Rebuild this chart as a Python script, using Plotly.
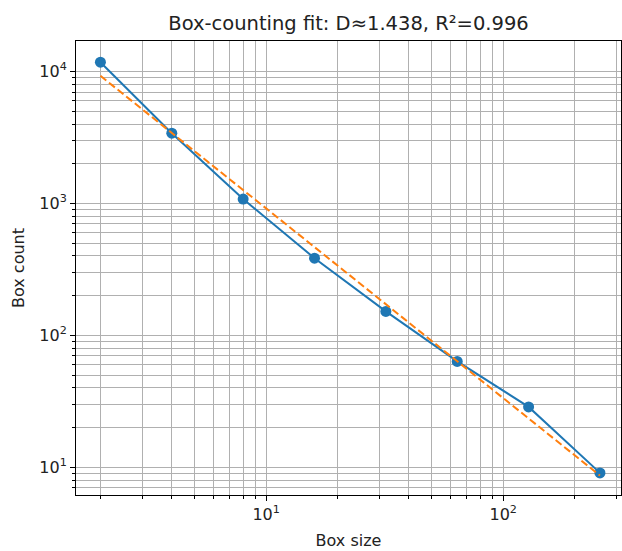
import numpy as np
import plotly.graph_objects as go

# Box-counting measurements
box_sizes = [2, 4, 8, 16, 32, 64, 128, 256]
box_counts = [11780, 3410, 1080, 385, 152, 63.5, 28.7, 9.07]

# Fitted fractal dimension and goodness of fit
D = 1.438
R2 = 0.996

ls = np.log10(box_sizes)
ln = np.log10(box_counts)
intercept = ln.mean() + D * ls.mean()
fit_counts = 10 ** (intercept - D * ls)

BLUE = "#1f77b4"
ORANGE = "#ff7f0e"
GRID = "#b0b0b0"
FONT = "DejaVu Sans"

fig = go.Figure()
fig.add_trace(go.Scatter(
    x=box_sizes, y=box_counts, mode="lines+markers",
    line=dict(color=BLUE, width=2),
    marker=dict(color=BLUE, size=11),
    showlegend=False,
))
fig.add_trace(go.Scatter(
    x=box_sizes, y=fit_counts, mode="lines",
    line=dict(color=ORANGE, width=2, dash="7.5px,3.5px"),
    showlegend=False,
))

axis_common = dict(
    type="log",
    automargin=False,
    showline=True, linecolor="black", linewidth=1, mirror=True,
    ticks="outside", ticklen=5, tickwidth=1, tickcolor="black",
    showgrid=True, gridcolor=GRID, gridwidth=1,
    zeroline=False,
    tickfont=dict(family=FONT, size=16, color="#222222"),
    minor=dict(ticks="outside", ticklen=3, tickwidth=1, tickcolor="black",
               showgrid=True, gridcolor=GRID, gridwidth=1, dtick="D1"),
)

fig.update_layout(
    width=622, height=551,
    margin=dict(l=76, r=1, t=41, b=56),
    paper_bgcolor="white", plot_bgcolor="white",
    font=dict(family=FONT, color="#222222"),
    title=dict(
        text=f"Box-counting fit: D≈{D:.3f}, R²={R2:.3f}",
        x=(76 + 621) / 2 / 622, xanchor="center",
        y=1 - 23 / 551, yanchor="middle", yref="container",
        font=dict(family=FONT, size=19.5, color="#222222"),
    ),
    xaxis=dict(
        axis_common,
        range=[0.198, 2.497],
        tickvals=[10, 100],
        ticktext=["10<sup>1</sup>", "10<sup>2</sup>"],
        title=dict(text="Box size", font=dict(family=FONT, size=16), standoff=11),
    ),
    yaxis=dict(
        axis_common,
        range=[0.79, 4.232],
        tickvals=[10, 100, 1000, 10000],
        ticktext=["10<sup>1</sup>", "10<sup>2</sup>", "10<sup>3</sup>", "10<sup>4</sup>"],
        title=dict(text="Box count", font=dict(family=FONT, size=16), standoff=10),
    ),
)

fig.write_html("out.html")
